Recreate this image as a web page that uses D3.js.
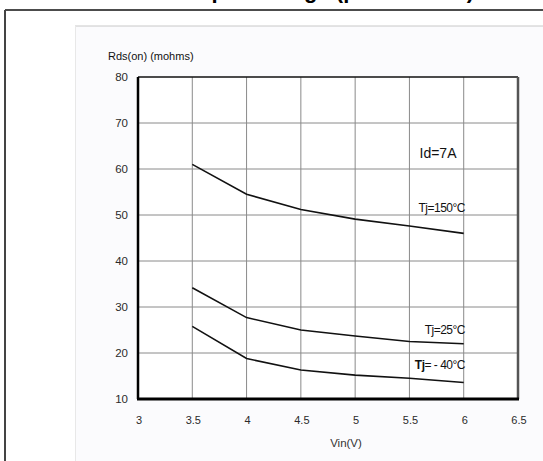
<!DOCTYPE html>
<html lang="en">
<head>
  <meta charset="utf-8">
  <script src="https://d3js.org/d3.v7.min.js"></script>
  <style>
    body { margin: 0; background: #fff; }
    svg { display: block; font-family: "Liberation Sans", Arial, sans-serif; }
  </style>
</head>
<body>
  <svg width="543" height="461"></svg>

  <script>
    const width = 543, height = 461;

    // data
    const vin = [3.5, 4, 4.5, 5, 5.5, 6];
    const tj150 = [61, 54.5, 51.2, 49.1, 47.6, 46];
    const tj25 = [34.2, 27.7, 25, 23.7, 22.5, 22];
    const tjM40 = [25.8, 18.8, 16.3, 15.2, 14.5, 13.6];
    const xTicks = [3, 3.5, 4, 4.5, 5, 5.5, 6, 6.5];
    const yTicks = [10, 20, 30, 40, 50, 60, 70, 80];

    const series = [
      { name: "Tj=150°C", values: tj150 },
      { name: "Tj=25°C", values: tj25 },
      { name: "Tj= - 40°C", values: tjM40 }
    ];

    const svg = d3.select("svg");

    // title, cut off by the top edge as in the source page
    svg.append("text")
      .attr("x", 474).attr("y", -2)
      .attr("text-anchor", "end")
      .style("font-size", "22px")
      .style("font-weight", "bold")
      .text("On Resistance vs Input Voltage (per channel)");

    // outer box
    svg.append("line").attr("x1", 5).attr("x2", width).attr("y1", 10).attr("y2", 10)
      .attr("stroke", "#111").attr("stroke-width", 1.5);
    svg.append("line").attr("x1", 5).attr("x2", 5).attr("y1", 10).attr("y2", height)
      .attr("stroke", "#444").attr("stroke-width", 2);

    // inner panel
    svg.append("rect")
      .attr("x", 75).attr("y", 26).attr("width", width - 75).attr("height", height - 26)
      .attr("fill", "#fbfbfd").attr("stroke", "none");
    svg.append("line").attr("x1", 75).attr("x2", width).attr("y1", 26).attr("y2", 26)
      .attr("stroke", "#c8c8c8").attr("stroke-width", 1);
    svg.append("line").attr("x1", 75.5).attr("x2", 75.5).attr("y1", 26).attr("y2", height)
      .attr("stroke", "#e8e8e8").attr("stroke-width", 1);

    const x = d3.scaleLinear().domain([3, 6.5]).range([138, 518]);
    const y = d3.scaleLinear().domain([10, 80]).range([399, 77]);

    const plot = svg.append("g");

    // plot background
    plot.append("rect")
      .attr("x", x(3)).attr("y", y(80))
      .attr("width", x(6.5) - x(3)).attr("height", y(10) - y(80))
      .attr("fill", "#fff");

    // grid
    plot.append("g").selectAll("line")
      .data(xTicks.slice(1, -1))
      .join("line")
      .attr("x1", d => x(d)).attr("x2", d => x(d))
      .attr("y1", y(80)).attr("y2", y(10))
      .attr("stroke", "#8a8a8a").attr("stroke-width", 1);

    plot.append("g").selectAll("line")
      .data(yTicks.slice(1, -1))
      .join("line")
      .attr("x1", x(3)).attr("x2", x(6.5))
      .attr("y1", d => y(d)).attr("y2", d => y(d))
      .attr("stroke", "#8a8a8a").attr("stroke-width", 1);

    // frame
    plot.append("line").attr("x1", x(3)).attr("x2", x(6.5)).attr("y1", y(80)).attr("y2", y(80))
      .attr("stroke", "#111").attr("stroke-width", 1.5);
    plot.append("line").attr("x1", x(6.5)).attr("x2", x(6.5)).attr("y1", y(80)).attr("y2", y(10))
      .attr("stroke", "#555").attr("stroke-width", 2.5);
    plot.append("line").attr("x1", x(3)).attr("x2", x(3)).attr("y1", y(80)).attr("y2", y(10))
      .attr("stroke", "#000").attr("stroke-width", 2.5);
    plot.append("line").attr("x1", x(3) - 1).attr("x2", x(6.5) + 1).attr("y1", y(10)).attr("y2", y(10))
      .attr("stroke", "#000").attr("stroke-width", 3);

    // tick labels
    svg.append("g").selectAll("text")
      .data(yTicks)
      .join("text")
      .attr("x", 128).attr("y", d => y(d))
      .attr("dy", "0.35em")
      .attr("text-anchor", "end")
      .style("font-size", "11.5px")
      .attr("fill", "#2a2a2a")
      .text(d => d);

    svg.append("g").selectAll("text")
      .data(xTicks)
      .join("text")
      .attr("x", d => x(d) + 1).attr("y", 424)
      .attr("text-anchor", "middle")
      .style("font-size", "11px")
      .attr("fill", "#2a2a2a")
      .text(d => d);

    // axis titles
    svg.append("text")
      .attr("x", 108).attr("y", 60)
      .style("font-size", "11px").attr("fill", "#111")
      .text("Rds(on) (mohms)");

    svg.append("text")
      .attr("x", 346).attr("y", 447)
      .attr("text-anchor", "middle")
      .style("font-size", "11.5px").attr("fill", "#333")
      .text("Vin(V)");

    // curves
    const line = d3.line()
      .x((d, i) => x(vin[i]))
      .y(d => y(d));

    plot.append("g").selectAll("path")
      .data(series)
      .join("path")
      .attr("d", d => line(d.values))
      .attr("fill", "none")
      .attr("stroke", "#111")
      .attr("stroke-width", 1.6);

    // annotations
    svg.append("text")
      .attr("x", 438).attr("y", 158)
      .attr("text-anchor", "middle")
      .style("font-size", "14px").attr("fill", "#111")
      .text("Id=7A");

    const labelY = [212, 334, 369];
    series.forEach((s, i) => {
      const t = svg.append("text")
        .attr("x", 465).attr("y", labelY[i])
        .attr("text-anchor", "end")
        .style("font-size", "12px")
        .style("letter-spacing", "-0.5px")
        .attr("fill", "#111");
      if (i === 2) {
        t.append("tspan").style("font-weight", "bold").text("Tj");
        t.append("tspan").text("= - 40°C");
      } else {
        t.text(s.name);
      }
    });
  </script>
</body>
</html>
